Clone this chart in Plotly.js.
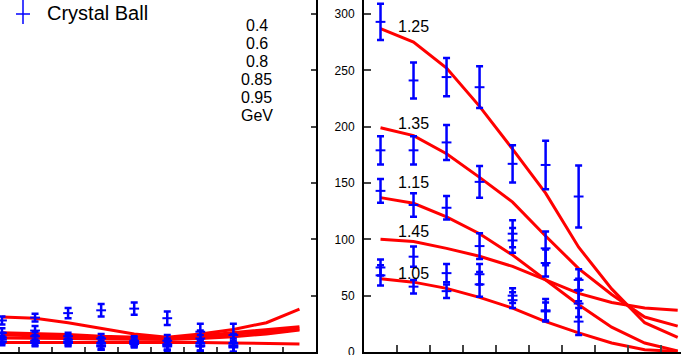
<!DOCTYPE html>
<html>
<head>
<meta charset="utf-8">
<script src="https://cdn.plot.ly/plotly-3.0.1.min.js"></script>
<style>
  html, body { margin: 0; padding: 0; background: #fff; }
  #chart { width: 681px; height: 355px; }
</style>
</head>
<body>
<div id="chart"></div>
<script>
// bin centres for the model curves and for the measured points
var curveX = [0.5, 1.5, 2.5, 3.5, 4.5, 5.5, 6.5, 7.5, 8.5, 9.5];
var leftPtsX = [0.5, 1.5, 2.5, 3.5, 4.5, 5.5, 6.5, 7.5];
var rightPtsX = [0.5, 1.5, 2.5, 3.5, 4.5, 5.5, 6.5];

// left panel: model curves
var left1 = [31, 30, 26, 21, 16, 13, 16, 20, 26, 38];
var left2 = [17, 16.5, 15.5, 14, 13, 12.5, 14.5, 17, 19.5, 22.5];
var left3 = [15, 14.5, 14, 13, 12, 12, 13.5, 15.5, 18, 20.5];
var left4 = [12.5, 12.5, 12, 11.5, 11, 11, 12, 13.5, 16, 19.5];
var left5 = [8.5, 8.5, 8.5, 8.5, 9, 9, 8.5, 8, 7.5, 7];

// left panel: measured points (value, error)
var leftPts1 = [28, 30.5, 34.5, 37, 38.5, 30, 18, 15];
var leftErr1 = [3.5, 3.5, 4.5, 5.5, 5.5, 6, 7, 10];
var leftPts2 = [17, 19, 14, 12, 10, 10, 12, 8];
var leftErr2 = [4, 4, 3, 4, 4, 5, 7, 8];
var leftPts3 = [13, 14, 11, 8, 9, 7, 8, 6];
var leftErr3 = [4, 4, 4, 5, 4, 5, 7, 6];
var leftPts4 = [11, 10, 9, 6, 8, 6, 6, 5];
var leftErr4 = [3.5, 4, 3, 4, 3, 4, 5, 5];
var leftPts5 = [9, 8, 8, 5, 7, 5, 5, 4];
var leftErr5 = [3, 3, 3, 3, 3, 4, 4, 4];

// right panel: model curves, labelled by width
var curveNames = ['1.25', '1.35', '1.15', '1.45', '1.05'];
var curve125 = [287, 275, 252, 218, 180, 141, 93, 56, 26, 13];
var curve135 = [199, 192, 176, 155, 133, 103, 74, 51, 31, 23];
var curve115 = [137, 132, 120, 105, 86, 64, 42, 22, 8, 1];
var curve145 = [100, 98, 92, 85, 76, 64, 52, 44, 39, 37];
var curve105 = [65, 62, 56.5, 48.5, 39, 27, 17, 8, 2, 0.5];

// right panel: measured points (value, error)
var pts125 = [293, 241, 244, 235, 167, 166, 138];
var err125 = [16, 16, 17, 18.5, 16.5, 21.5, 27.5];
var pts135 = [179, 179, 186, 151, 105, 92, 64];
var err135 = [12.5, 12.5, 15.5, 14, 12, 15, 9.5];
var pts115 = [143, 130.5, 128, 94, 99, 79, 55];
var err115 = [10.5, 10.5, 10.5, 11.5, 11, 12, 10];
var pts145 = [75, 84.6, 70, 69, 50, 37, 43];
var err145 = [7, 9, 8, 9, 6.5, 10, 12];
var pts105 = [68, 58, 54, 60, 46, 36, 27];
var err105 = [9, 6, 6, 11, 7, 8, 12];

var energies = ['0.4', '0.6', '0.8', '0.85', '0.95', 'GeV'];

var red = '#ff0000', blue = '#0000ff';

function curve(y, xa, ya) {
  return { x: curveX, y: y, xaxis: xa, yaxis: ya, type: 'scatter', mode: 'lines',
           line: { color: red, width: 3 }, hoverinfo: 'none', showlegend: false };
}
function points(x, y, e, xa, ya) {
  return { x: x, y: y, xaxis: xa, yaxis: ya, type: 'scatter', mode: 'markers',
           marker: { symbol: 'line-ew', size: 7, line: { color: blue, width: 2 } },
           error_y: { type: 'data', array: e, visible: true, color: blue, thickness: 2.5, width: 3.5 },
           hoverinfo: 'none', showlegend: false };
}

var data = [
  curve(left1, 'x', 'y'), curve(left2, 'x', 'y'), curve(left3, 'x', 'y'),
  curve(left4, 'x', 'y'), curve(left5, 'x', 'y'),
  points(leftPtsX, leftPts1, leftErr1, 'x', 'y'),
  points(leftPtsX, leftPts2, leftErr2, 'x', 'y'),
  points(leftPtsX, leftPts3, leftErr3, 'x', 'y'),
  points(leftPtsX, leftPts4, leftErr4, 'x', 'y'),
  points(leftPtsX, leftPts5, leftErr5, 'x', 'y'),
  curve(curve125, 'x2', 'y2'), curve(curve135, 'x2', 'y2'), curve(curve115, 'x2', 'y2'),
  curve(curve145, 'x2', 'y2'), curve(curve105, 'x2', 'y2'),
  points(rightPtsX, pts125, err125, 'x2', 'y2'),
  points(rightPtsX, pts135, err135, 'x2', 'y2'),
  points(rightPtsX, pts115, err115, 'x2', 'y2'),
  points(rightPtsX, pts145, err145, 'x2', 'y2'),
  points(rightPtsX, pts105, err105, 'x2', 'y2')
];

var W = 681, H = 352;
var ticks = [1, 2, 3, 4, 5, 6, 7, 8, 9];
var yTicks = [0, 50, 100, 150, 200, 250, 300];

var anot = [];
// curve labels sit just above each curve's second bin
var curveLabelY = [288.5, 203, 150, 106.8, 70];
for (var i = 0; i < curveNames.length; i++) {
  anot.push({ xref: 'x2', yref: 'y2', x: 1.5, y: curveLabelY[i], text: curveNames[i],
              showarrow: false, font: { family: 'Arial, Liberation Sans', size: 16, color: '#000' } });
}
for (var j = 0; j < energies.length; j++) {
  anot.push({ xref: 'paper', yref: 'paper', x: 256.5 / W, y: 1 - (25 + 18.1 * j) / H,
              text: energies[j], showarrow: false, yanchor: 'middle',
              font: { family: 'Arial, Liberation Sans', size: 16, color: '#000' } });
}
anot.push({ xref: 'paper', yref: 'paper', x: 45 / W, y: 1 - 13 / H, xanchor: 'left', yanchor: 'middle',
            text: 'Crystal Ball', showarrow: false,
            font: { family: 'Arial, Liberation Sans', size: 20, color: '#000' } });

var layout = {
  width: 681, height: 355,
  margin: { l: 0, r: 0, t: 0, b: 3 },
  paper_bgcolor: '#fff', plot_bgcolor: '#fff',
  showlegend: false,
  font: { family: 'Arial, Liberation Sans', size: 12, color: '#000' },
  xaxis: { domain: [0, 316 / W], range: [0.44, 10], tickvals: ticks, ticks: 'inside', ticklen: 5,
           tickwidth: 2, showticklabels: false, showline: true, linewidth: 2, linecolor: '#000',
           showgrid: false, zeroline: false },
  yaxis: { anchor: 'x', side: 'right', range: [0, 312.4], tickvals: yTicks, ticks: 'inside', ticklen: 5,
           tickwidth: 2, showticklabels: false, showline: true, linewidth: 2, linecolor: '#000',
           showgrid: false, zeroline: false },
  xaxis2: { domain: [364 / W, 1], range: [0, 9.6], tickvals: ticks, ticks: 'inside', ticklen: 7,
            tickwidth: 2, showticklabels: false, showline: true, linewidth: 2, linecolor: '#000',
            showgrid: false, zeroline: false, anchor: 'y2' },
  yaxis2: { anchor: 'x2', range: [0, 312.4], tickvals: yTicks, ticks: 'inside', ticklen: 7,
            tickwidth: 2, showline: true, linewidth: 2, linecolor: '#000', showgrid: false, zeroline: false,
            tickfont: { size: 12 }, ticklabelstandoff: 5, ticklabeloverflow: 'allow' },
  shapes: [
    { type: 'line', xref: 'paper', yref: 'paper', x0: 23 / W, x1: 23 / W, y0: 1, y1: 1 - 24 / H,
      line: { color: blue, width: 1.5 } },
    { type: 'line', xref: 'paper', yref: 'paper', x0: 16 / W, x1: 30 / W, y0: 1 - 14 / H, y1: 1 - 14 / H,
      line: { color: blue, width: 1.5 } }
  ],
  annotations: anot
};

Plotly.newPlot('chart', data, layout, { displayModeBar: false, staticPlot: true });
</script>
</body>
</html>
